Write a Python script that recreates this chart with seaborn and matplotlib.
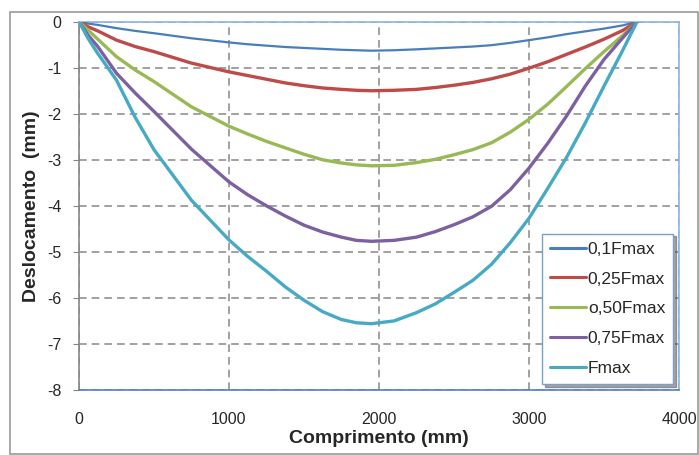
import numpy as np
import pandas as pd
import matplotlib
matplotlib.use("Agg")
import matplotlib.pyplot as plt
import seaborn as sns
from matplotlib.patches import Rectangle

# Posições ao longo da viga (mm)
comprimento = [0, 60, 125, 250, 375, 500, 750, 1000, 1125, 1250, 1375, 1500, 1625, 1750,
               1850, 1950, 2100, 2250, 2375, 2500, 2625, 2750, 2875, 3000, 3125, 3250,
               3375, 3500, 3625, 3720]

# Deslocamentos (mm)
desl_010 = [0, -0.04, -0.07, -0.14, -0.20, -0.25, -0.36, -0.45, -0.49, -0.52, -0.55, -0.57,
            -0.59, -0.61, -0.62, -0.63, -0.62, -0.60, -0.58, -0.56, -0.54, -0.51, -0.46,
            -0.40, -0.34, -0.27, -0.21, -0.15, -0.08, 0]
desl_025 = [0, -0.11, -0.20, -0.40, -0.54, -0.65, -0.90, -1.09, -1.17, -1.25, -1.33, -1.39,
            -1.44, -1.47, -1.49, -1.50, -1.49, -1.47, -1.43, -1.38, -1.32, -1.24, -1.14,
            -1.01, -0.87, -0.71, -0.55, -0.38, -0.19, 0]
desl_050 = [0, -0.18, -0.38, -0.76, -1.05, -1.30, -1.85, -2.27, -2.44, -2.60, -2.74, -2.88,
            -3.00, -3.07, -3.11, -3.13, -3.12, -3.06, -2.99, -2.89, -2.78, -2.63, -2.40,
            -2.12, -1.79, -1.41, -1.02, -0.65, -0.30, 0]
desl_075 = [0, -0.29, -0.54, -1.12, -1.55, -1.95, -2.77, -3.48, -3.76, -4.00, -4.22, -4.42,
            -4.57, -4.68, -4.75, -4.77, -4.75, -4.68, -4.56, -4.41, -4.24, -4.01, -3.65,
            -3.18, -2.64, -2.05, -1.40, -0.82, -0.35, 0]
desl_max = [0, -0.36, -0.69, -1.27, -2.08, -2.78, -3.88, -4.74, -5.10, -5.42, -5.76, -6.05,
            -6.30, -6.47, -6.54, -6.56, -6.50, -6.32, -6.13, -5.88, -5.62, -5.27, -4.80,
            -4.27, -3.62, -2.95, -2.20, -1.40, -0.62, 0]

series = ["0,1Fmax", "0,25Fmax", "o,50Fmax", "0,75Fmax", "Fmax"]
cores = ["#4A7EBB", "#BE4B48", "#98B954", "#7D60A0", "#46AAC5"]

valores = [desl_010, desl_025, desl_050, desl_075, desl_max]
df = pd.concat([
    pd.DataFrame({"x": comprimento, "y": v, "serie": s})
    for s, v in zip(series, valores)
], ignore_index=True)

sns.set_style("white")
plt.rcParams["font.family"] = ["Liberation Sans", "DejaVu Sans"]
plt.rcParams["axes.unicode_minus"] = False

fig = plt.figure(figsize=(6.99, 4.55), dpi=100)
ax = fig.add_axes([79 / 699, 1 - 390 / 455, 600 / 699, (390 - 21.7) / 455])

# moldura exterior do gráfico
fig.patches.append(Rectangle((10 / 699, 1 - 454 / 455), 688 / 699, 442 / 455,
                             transform=fig.transFigure, fill=False,
                             edgecolor="#9A9A9A", linewidth=1.2))

sns.lineplot(data=df, x="x", y="y", hue="serie", hue_order=series,
             palette=cores, sort=False, estimator=None, ax=ax, zorder=3)
for ln, lw in zip(ax.get_lines(), [1.6, 2.4, 2.4, 2.4, 2.4]):
    ln.set_linewidth(lw)
    ln.set_solid_joinstyle("round")

ax.set_xlim(0, 4000)
ax.set_ylim(-8, 0)
ax.set_xticks([0, 1000, 2000, 3000, 4000])
ax.set_yticks(np.arange(-8, 1, 1))

ax.grid(True, color="#878787", linestyle=(0, (5, 3.3)), linewidth=1.1)
ax.set_axisbelow(True)

for side in ["top", "right"]:
    ax.spines[side].set_color("#8EB4E3")
ax.spines["bottom"].set_color("#4F81BD")
ax.spines["left"].set_color("#868686")
for sp in ax.spines.values():
    sp.set_linewidth(1.2)

ax.tick_params(axis="y", length=4, color="#868686", labelsize=11.5, pad=8.5, left=True)
ax.tick_params(axis="x", length=0, labelsize=11.5, pad=16)

ax.set_xlabel("Comprimento (mm)", fontsize=14, fontweight="bold", labelpad=2)
ax.set_ylabel("Deslocamento  (mm)", fontsize=14, fontweight="bold", labelpad=5)

handles, labels = ax.get_legend_handles_labels()
for h in handles:
    h.set_linewidth(2.2)
leg = ax.legend(handles, labels, loc="lower right", bbox_to_anchor=(0.99, 0.016),
                borderaxespad=0, fontsize=12.5, frameon=True, fancybox=False,
                shadow=True, handlelength=2.1, handletextpad=0.1, labelspacing=0.85,
                borderpad=0.45)
leg.get_frame().set_edgecolor("#7F9DC9")
leg.get_frame().set_linewidth(1.0)

fig.savefig("out.png", dpi=100)
